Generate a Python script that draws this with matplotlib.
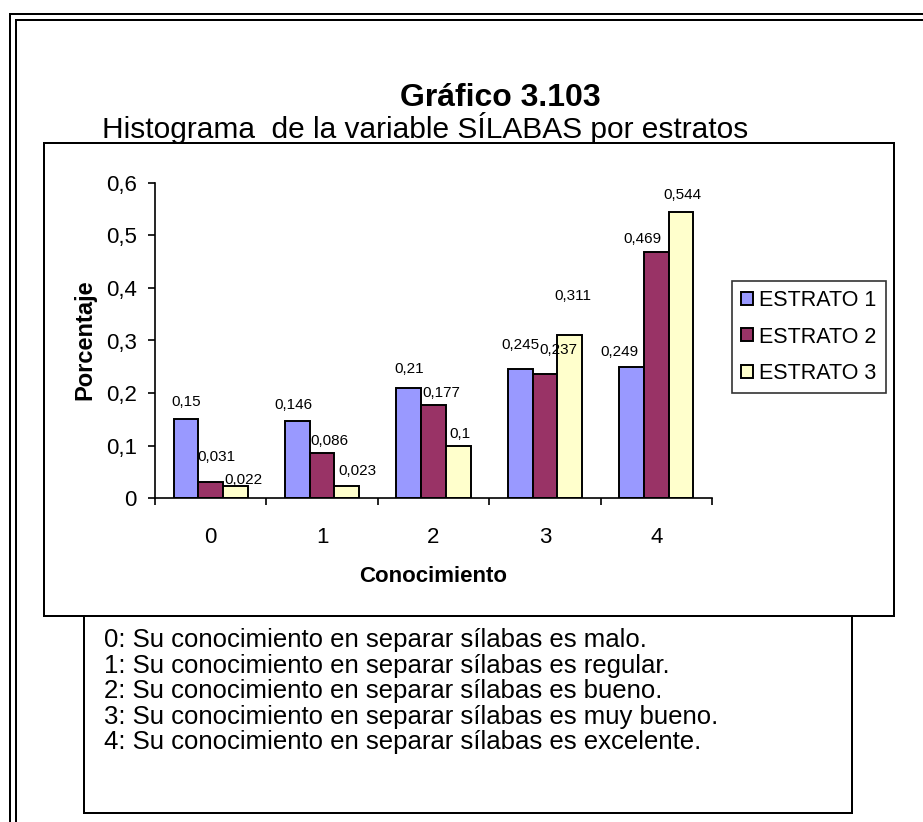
import matplotlib
matplotlib.use("Agg")
import matplotlib.pyplot as plt
from matplotlib.patches import Rectangle
from matplotlib.lines import Line2D
import numpy as np

plt.rcParams['font.family'] = ['Liberation Sans', 'DejaVu Sans']

categories = ['0', '1', '2', '3', '4']
series_names = ['ESTRATO 1', 'ESTRATO 2', 'ESTRATO 3']
estrato1 = [0.15, 0.146, 0.21, 0.245, 0.249]
estrato2 = [0.031, 0.086, 0.177, 0.237, 0.469]
estrato3 = [0.022, 0.023, 0.1, 0.311, 0.544]
series_colors = ['#9999FF', '#993366', '#FFFFCC']
y_ticks = [0, 0.1, 0.2, 0.3, 0.4, 0.5, 0.6]
y_tick_labels = ['0', '0,1', '0,2', '0,3', '0,4', '0,5', '0,6']
notes = [
    '0: Su conocimiento en separar sílabas es malo.',
    '1: Su conocimiento en separar sílabas es regular.',
    '2: Su conocimiento en separar sílabas es bueno.',
    '3: Su conocimiento en separar sílabas es muy bueno.',
    '4: Su conocimiento en separar sílabas es excelente.',
]

# value-label placement offsets (pixels: dx right, dy up from bar top), per series, per category
label_offsets = [
    [(0, 17), (-4, 16), (0, 19), (0, 24), (-12, 15)],
    [(6, 25), (7, 12), (8, 12), (13, 24), (-14, 13)],
    [(8, 6), (11, 15), (2, 12), (3, 39), (1, 17)],
]

W, H = 923, 822
fig = plt.figure(figsize=(W / 100, H / 100), dpi=100)


def fx(px):
    return px / W


def fy(py):
    return 1 - py / H


lw = 2.0 * 0.72
for off in (10, 16):
    fig.add_artist(Line2D([fx(off), fx(off)], [fy(off + 4), 0], transform=fig.transFigure, color='black', lw=lw))
    fig.add_artist(Line2D([fx(off), 1], [fy(off + 4), fy(off + 4)], transform=fig.transFigure, color='black', lw=lw))

fig.add_artist(Rectangle((fx(44), fy(616)), fx(894) - fx(44), fy(143) - fy(616),
                         transform=fig.transFigure, fill=False, ec='black', lw=lw))
fig.add_artist(Rectangle((fx(84), fy(813)), fx(852) - fx(84), fy(616) - fy(813),
                         transform=fig.transFigure, fill=False, ec='black', lw=lw))

fig.text(fx(500), fy(98), 'Gráfico 3.103', ha='center', va='center', fontsize=23, fontweight='bold')
fig.text(fx(425), fy(128), 'Histograma  de la variable SÍLABAS por estratos', ha='center', va='center', fontsize=21.5)

for i, line in enumerate(notes):
    fig.text(fx(104), fy(640 + i * 25.6), line, ha='left', va='center', fontsize=18.5)

ax = fig.add_axes([fx(155), fy(498), fx(712) - fx(155), fy(183) - fy(498)])
x = np.arange(len(categories))
bw = 0.222
all_series = [estrato1, estrato2, estrato3]
handles = []
for i, (vals, col, name) in enumerate(zip(all_series, series_colors, series_names)):
    xs = x + (i - 1) * bw
    bars = ax.bar(xs, vals, width=bw, color=col, edgecolor='black', linewidth=1.4, label=name)
    handles.append(bars)
    for j, (xi, v) in enumerate(zip(xs, vals)):
        dx, dy = label_offsets[i][j]
        ax.annotate(('%g' % v).replace('.', ','), (xi, v), xytext=(dx * 0.72, dy * 0.72),
                    textcoords='offset points', ha='center', va='center', fontsize=11)

ax.set_xlim(-0.5, len(categories) - 0.5)
ax.set_ylim(0, 0.6)
ax.set_yticks(y_ticks)
ax.set_yticklabels(y_tick_labels, fontsize=16)
ax.set_xticks(np.arange(-0.5, len(categories), 1.0))
ax.set_xticklabels([''] * (len(categories) + 1))
ax.set_xticks(x, minor=True)
ax.set_xticklabels(categories, minor=True, fontsize=16)
ax.tick_params(axis='x', which='minor', length=0, pad=21)
ax.tick_params(axis='x', which='major', length=5, width=1.2, direction='out')
ax.tick_params(axis='y', length=5, width=1.2, direction='out', pad=8)
for s in ('top', 'right'):
    ax.spines[s].set_visible(False)
for s in ('left', 'bottom'):
    ax.spines[s].set_linewidth(1.2)
ax.set_facecolor('none')

fig.text(fx(433), fy(576), 'Conocimiento', ha='center', va='center', fontsize=16, fontweight='bold')
fig.text(fx(85), fy(340), 'Porcentaje', ha='center', va='center', fontsize=17, fontweight='bold', rotation=90)

leg = fig.legend(handles=handles, labels=series_names, loc='upper left',
                 bbox_to_anchor=(fx(732), fy(281)), bbox_transform=fig.transFigure,
                 borderaxespad=0, fancybox=False, frameon=True, fontsize=15.5,
                 handlelength=0.55, handleheight=0.55, handletextpad=0.3,
                 labelspacing=0.72, borderpad=0.42)
leg.get_frame().set_edgecolor('black')
leg.get_frame().set_linewidth(1.2)

fig.savefig('out.png', dpi=100)
